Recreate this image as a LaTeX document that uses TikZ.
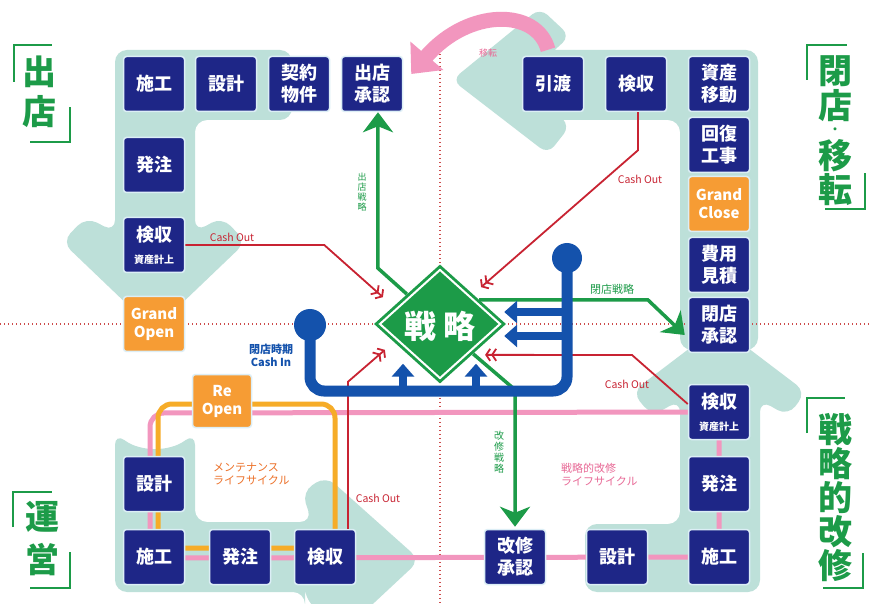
\documentclass[tikz,border=0pt]{standalone}
\usepackage{fontspec}
\newfontfamily\jp{Noto Sans CJK JP}
\usetikzlibrary{arrows.meta,shapes.geometric,calc}
\pgfdeclarelayer{bg}
\pgfsetlayers{bg,main}
\definecolor{navy}{RGB}{30,38,135}
\definecolor{tealbg}{RGB}{189,224,217}
\definecolor{orng}{RGB}{246,156,52}
\definecolor{grn}{RGB}{28,155,72}
\definecolor{redl}{RGB}{200,35,50}
\definecolor{dotr}{RGB}{205,75,75}
\definecolor{blu}{RGB}{20,82,172}
\definecolor{pnk}{RGB}{242,150,190}
\definecolor{pnktxt}{RGB}{232,105,150}
\definecolor{ylw}{RGB}{246,172,40}
\definecolor{orgtxt}{RGB}{236,112,40}
\definecolor{boxedge}{RGB}{220,238,246}
\tikzset{
  box/.style={rectangle,rounded corners=3pt,fill=navy,draw=boxedge,line width=1.5pt,
    minimum width=61pt,minimum height=55pt,inner sep=0pt,text=white,align=center,
    font=\jp\bfseries\fontsize{18}{22}\selectfont},
  obox/.style={box,fill=orng,font=\jp\bfseries\fontsize{15}{18}\selectfont},
  bigch/.style={text=grn,inner sep=0pt,font=\jp\bfseries\fontsize{34}{34}\selectfont},
  brk/.style={draw=grn,line width=1.3pt},
  redline/.style={draw=redl,line width=1.8pt},
  redarr/.style={redline,-{Straight Barb[length=4pt,width=12pt]Straight Barb[length=4pt,width=12pt]}},
  grnarr/.style={draw=grn,line width=3.5pt,-{Stealth[length=20pt,width=30pt,inset=6pt]}},
  bluarr/.style={draw=blu,line width=8pt,-{Triangle[length=13pt,width=22pt]}},
  smalltxt/.style={inner sep=0pt,font=\jp\fontsize{10.5}{12}\selectfont},
  vtxt/.style={inner sep=0pt,align=center,font=\jp\fontsize{9}{10}\selectfont},
  pinkline/.style={draw=pnk,line width=5pt},
  orgline/.style={draw=ylw,line width=5pt},
  dotline/.style={draw=dotr,line width=1.3pt,dash pattern=on 1.3pt off 2.7pt},
}
\begin{document}
\begin{tikzpicture}[x=1pt,y=-1pt]
\useasboundingbox (0,0) rectangle (871,604);

% ---------- boxes ----------
\node[box] (sekouTL) at (154,84) {施工};
\node[box] (sekkeiTL) at (226,84) {設計};
\node[box] (keiyaku) at (299,84) {契約\\物件};
\node[box] (shutten) at (372,84) {出店\\承認};
\node[box] (hatchuTL) at (154,165) {発注};
\node[box] (kenTL) at (154,245) {検収\\{\fontsize{10}{12}\selectfont 資産計上}};
\node[obox] (gopen) at (154,324) {Grand\\Open};

\node[box] (hikiwatashi) at (553,84) {引渡};
\node[box] (kenTR) at (636,84) {検収};
\node[box] (shisan) at (719,84) {資産\\移動};
\node[box] (kaifuku) at (719,145) {回復\\工事};
\node[obox] (gclose) at (719,204) {Grand\\Close};
\node[box] (hiyou) at (719,265) {費用\\見積};
\node[box] (heiten) at (719,325) {閉店\\承認};

\node[box] (kenR) at (719,412) {検収\\{\fontsize{10}{12}\selectfont 資産計上}};
\node[box] (hatchuR) at (719,484) {発注};
\node[box] (sekouR) at (719,557) {施工};
\node[box] (sekkeiR) at (617,557) {設計};
\node[box] (kaishu) at (515,557) {改修\\承認};

\node[box] (sekkeiBL) at (154,484) {設計};
\node[box] (sekouBL) at (154,557) {施工};
\node[box] (hatchuBL) at (240,557) {発注};
\node[box] (kenBL) at (325,557) {検収};
\node[obox,minimum width=59pt,minimum height=53pt] (reopen) at (222,401) {Re\\Open};

% ---------- centre diamond ----------
\node[diamond,fill=grn,minimum width=132pt,minimum height=119pt,inner sep=0pt] (strat) at (440,324) {};
\node[diamond,fill=grn,draw=white,line width=2pt,minimum width=121pt,minimum height=109pt,inner sep=0pt] (stratin) at (440,324) {};
\node[text=white,inner sep=0pt,font=\jp\bfseries\fontsize{32}{32}\selectfont] (stratlbl) at (440,326) {戦\hspace{7pt}略};

% ---------- background layer ----------
\begin{pgfonlayer}{bg}
\fill[white] (0,0) rectangle (871,604);
% top-left band with down arrow
\fill[tealbg,rounded corners=12pt] (292,50) -- (115,50) -- (115,232) -- (86,217) -- (62,242)
  -- (154,330) -- (246,242) -- (222,217) -- (195,232) -- (195,120) -- (292,120) -- cycle;
% top-right band with left arrow
\fill[tealbg,rounded corners=12pt] (515,50) -- (758,50) -- (758,350) -- (680,350) -- (680,120) -- (515,120) -- cycle;
\fill[tealbg,rounded corners=10pt] (452,80) -- (540,8) -- (570,36) -- (522,80) -- (570,126) -- (548,154) -- cycle;
% bottom-right band with up arrow
\fill[tealbg,rounded corners=12pt] (719,326) -- (806,392) -- (788,416) -- (760,400) -- (760,592)
  -- (585,592) -- (585,524) -- (680,524) -- (680,400) -- (652,416) -- (632,392) -- cycle;
% bottom-left band with right arrow
\fill[tealbg,rounded corners=12pt] (115,433) .. controls (140,452) and (170,452) .. (195,433)
  -- (195,522) -- (312,522) -- (302,492) -- (326,476) -- (420,560) -- (345,630) -- (305,600)
  -- (305,592) -- (115,592) -- cycle;
% dotted axes
\draw[dotline] (0,324) -- (871,324);
\draw[dotline] (440,38) -- (440,604);
% life cycle loops
\draw[pinkline,rounded corners=14pt] (kenR.center) -- (150,413) -- (150,558) -- (sekouR.center) -- cycle;
\draw[orgline,rounded corners=14pt] (158,548) -- (335,548) -- (335,404) -- (158,404) -- cycle;
\end{pgfonlayer}

% ---------- red cash-out connectors ----------
\draw[redarr] (kenTL.east) -- ++(139,0) -- ($(strat.north west)+(-24,3)$);
\draw[redarr] ($(kenTR.south)+(2,0)$) -- ++(0,38) -- ($(strat.north east)+(8,-7)$);
\draw[redarr] ($(kenR.west)+(0,-8)$) -- (632,355) -- ($(strat.south east)+(12,1)$);
\draw[redarr] ($(kenBL.north)+(23,0)$) -- ++(0,-147) -- ($(strat.south west)+(-22,-4)$);

% ---------- green strategy connectors ----------
\draw[grnarr] (strat.north west) -- ++(-29,-26) -- ($(shutten.south)+(6,0)$);
\draw[grnarr] ($(strat.center)+(39,-24)$) -- (648,300) -- ($(heiten.west)+(-3,10)$);
\draw[grnarr] (strat.south east) -- ++(42,36) -- ($(kaishu.north)+(0,-2)$);

% ---------- blue cash-in frame ----------
\coordinate (ballL) at (310,325);
\coordinate (ballR) at (567,258);
\coordinate (bR1) at (567,312);
\coordinate (bR2) at (567,336);
\coordinate (bB1) at (403,391);
\coordinate (bB2) at (476,391);
\draw[blu,line width=11pt,rounded corners=14pt] (ballL) -- (310,391) -- (567,391) -- (ballR);
\fill[blu] (ballL) circle (16pt);
\fill[blu] (ballR) circle (15pt);
\draw[bluarr] (bR1) -- ($(strat.east)+(-2,-12)$);
\draw[bluarr] (bR2) -- ($(strat.east)+(-2,12)$);
\draw[bluarr] (bB1) -- ($(strat.south)+(-37,-20)$);
\draw[bluarr] (bB2) -- ($(strat.south)+(36,-20)$);

% ---------- pink relocation arrow ----------
\draw[pnk,line width=15pt,-{Triangle[length=24pt,width=42pt]}]
  ($(hikiwatashi.north)+(-5,-6)$) .. controls (537,8) and (468,8) .. ($(shutten.east)+(8,-10)$);
\node[smalltxt,text=pnktxt,font=\jp\fontsize{9}{10}\selectfont] (iten) at (488,53) {移転};

% ---------- labels ----------
\node[smalltxt,text=redl] (co1) at (232,237) {Cash Out};
\node[smalltxt,text=redl] (co2) at (640,179) {Cash Out};
\node[smalltxt,text=redl] (co3) at (627,384) {Cash Out};
\node[smalltxt,text=redl] (co4) at (378,498) {Cash Out};
\node[vtxt,text=grn] (lblShutten) at (362,192) {出\\店\\戦\\略};
\node[smalltxt,text=grn,font=\jp\fontsize{11}{12}\selectfont] (lblHeiten) at (612,289) {閉店戦略};
\node[vtxt,text=grn,font=\jp\fontsize{10}{11}\selectfont] (lblKaishu) at (499,452) {改\\修\\戦\\略};
\node[vtxt,text=blu,font=\jp\bfseries\fontsize{11}{13}\selectfont] (lblCashIn) at (271,355) {閉店時期\\Cash In};
\node[smalltxt,text=orgtxt,align=left,anchor=north west,font=\jp\fontsize{11}{13}\selectfont] (lblMaint) at (213,463) {メンテナンス\\ライフサイクル};
\node[smalltxt,text=pnktxt,align=left,anchor=north west,font=\jp\fontsize{11}{13}\selectfont] (lblStrat) at (561,463) {戦略的改修\\ライフサイクル};

% ---------- corner titles ----------
\node[bigch] (t1a) at (39,72) {出};
\node[bigch] (t1b) at (39,112) {店};
\draw[brk] (14,82) -- (14,45) -- (52,45);
\draw[brk] (30,142) -- (70,142) -- (70,107);

\node[bigch] (t2a) at (42,517) {運};
\node[bigch] (t2b) at (42,560) {営};
\draw[brk] (13,527) -- (13,492) -- (52,492);
\draw[brk] (30,588) -- (70,588) -- (70,552);

\node[bigch] (t3a) at (835,71) {閉};
\node[bigch] (t3b) at (835,106) {店};
\node[bigch,font=\jp\bfseries\fontsize{11}{11}\selectfont] (t3c) at (835,131) {・};
\node[bigch] (t3d) at (835,156) {移};
\node[bigch] (t3e) at (835,190) {転};
\draw[brk] (807,80) -- (807,45) -- (847,45);
\draw[brk] (825,209) -- (865,209) -- (865,173);

\node[bigch] (t4a) at (835,430) {戦};
\node[bigch] (t4b) at (835,464) {略};
\node[bigch] (t4c) at (835,498) {的};
\node[bigch] (t4d) at (835,532) {改};
\node[bigch] (t4e) at (835,566) {修};
\draw[brk] (807,433) -- (807,398) -- (845,398);
\draw[brk] (823,588) -- (863,588) -- (863,553);
\end{tikzpicture}
\end{document}
